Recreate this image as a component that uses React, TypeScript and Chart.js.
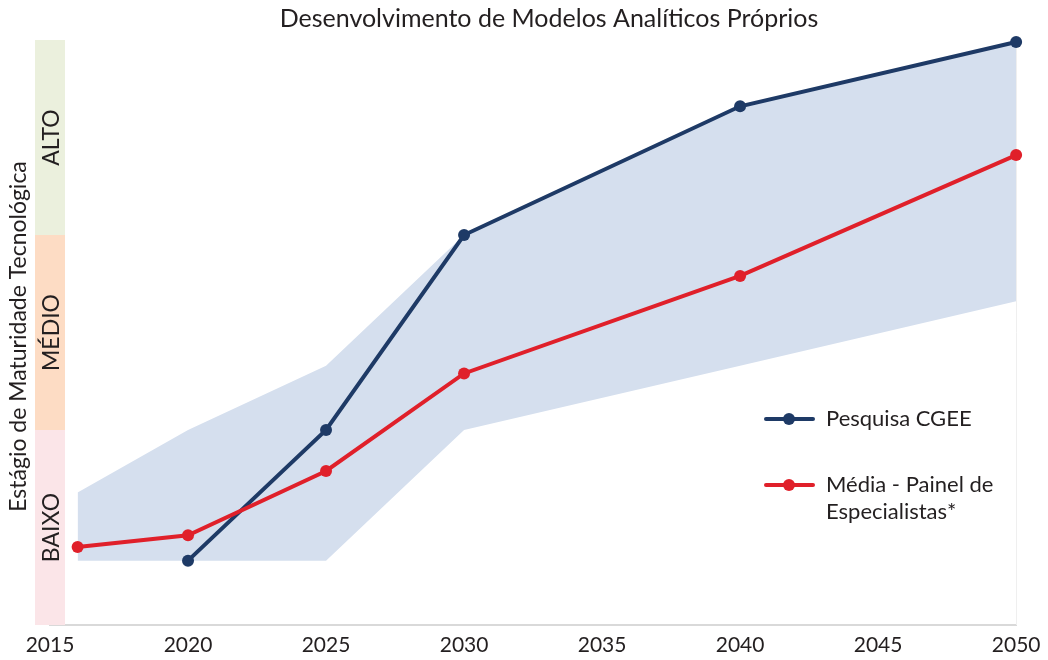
import React, { useEffect, useRef } from 'react';
import { Chart, registerables } from 'chart.js';

Chart.register(...registerables);

const chartTitle = 'Desenvolvimento de Modelos Analíticos Próprios';
const yAxisTitle = 'Estágio de Maturidade Tecnológica';
const stageLabels = ['BAIXO', 'MÉDIO', 'ALTO'];
const stageColors = ['#fbe5e8', '#fddcc4', '#ebf0dd'];
const xTickValues = [2015, 2020, 2025, 2030, 2035, 2040, 2045, 2050];
const xTickLabels = ['2015', '2020', '2025', '2030', '2035', '2040', '2045', '2050'];

const seriesNames = ['Pesquisa CGEE', 'Média - Painel de Especialistas*'];
const cgeeYears = [2020, 2025, 2030, 2040, 2050];
const cgeeValues = [0.33, 1.0, 2.0, 2.66, 2.99];
const panelYears = [2016, 2020, 2025, 2030, 2040, 2050];
const panelValues = [0.4, 0.46, 0.79, 1.29, 1.79, 2.41];
const rangeYears = [2016, 2020, 2025, 2030, 2040, 2050];
const rangeUpper = [0.68, 1.0, 1.33, 2.0, 2.66, 2.99];
const rangeLower = [0.33, 0.33, 0.33, 1.0, 1.33, 1.66];

const BLUE = '#1e3a66';
const RED = '#e0202a';
const FILL = '#d5dfee';
const TEXT = '#231f20';
const FONT = 'Lato';

const pts = (xs: number[], ys: number[]) => xs.map((x, i) => ({ x, y: ys[i] }));

const decorPlugin = {
  id: 'decor',
  beforeDatasetsDraw(chart: any) {
    const { ctx, chartArea, scales } = chart;
    const y = scales.y;
    ctx.save();
    for (let i = 0; i < stageLabels.length; i++) {
      const top = y.getPixelForValue(i + 1);
      const bottom = y.getPixelForValue(i);
      ctx.fillStyle = stageColors[i];
      ctx.fillRect(35, top, 30, bottom - top);
    }
    ctx.strokeStyle = '#efefef';
    ctx.lineWidth = 1;
    ctx.beginPath();
    ctx.moveTo(Math.round(chartArea.right) + 0.5, chartArea.top);
    ctx.lineTo(Math.round(chartArea.right) + 0.5, chartArea.bottom);
    ctx.stroke();

    ctx.fillStyle = TEXT;
    ctx.textAlign = 'center';
    ctx.textBaseline = 'alphabetic';
    ctx.font = `23px ${FONT}`;
    for (let i = 0; i < stageLabels.length; i++) {
      const top = y.getPixelForValue(i + 1);
      const bottom = y.getPixelForValue(i);
      ctx.save();
      ctx.translate(59, (top + bottom) / 2);
      ctx.rotate(-Math.PI / 2);
      ctx.fillText(stageLabels[i], 0, 0);
      ctx.restore();
    }
    ctx.save();
    ctx.font = `23px ${FONT}`;
    ctx.translate(26, (chartArea.top + chartArea.bottom) / 2 + 4);
    ctx.rotate(-Math.PI / 2);
    ctx.fillText(yAxisTitle, 0, 0);
    ctx.restore();

    // chart title
    ctx.font = `25px ${FONT}`;
    ctx.textAlign = 'center';
    ctx.textBaseline = 'middle';
    ctx.fillText(chartTitle, 549, 19);
    ctx.restore();
  },
};

const legendPlugin = {
  id: 'customLegend',
  afterDatasetsDraw(chart: any) {
    const { ctx } = chart;
    const colors = [BLUE, RED];
    const rows = [419, 485];
    ctx.save();
    ctx.font = `22px ${FONT}`;
    ctx.textBaseline = 'middle';
    ctx.textAlign = 'left';
    seriesNames.forEach((name, i) => {
      const yy = rows[i];
      ctx.strokeStyle = colors[i];
      ctx.lineWidth = 4;
      ctx.lineCap = 'round';
      ctx.beginPath();
      ctx.moveTo(766, yy);
      ctx.lineTo(813, yy);
      ctx.stroke();
      ctx.fillStyle = colors[i];
      ctx.beginPath();
      ctx.arc(789, yy, 6, 0, Math.PI * 2);
      ctx.fill();
      const words = name.split(' ');
      const lines: string[] = [];
      let cur = '';
      for (const w of words) {
        const t = cur ? cur + ' ' + w : w;
        if (ctx.measureText(t).width > 190 && cur) {
          lines.push(cur);
          cur = w;
        } else cur = t;
      }
      if (cur) lines.push(cur);
      ctx.fillStyle = TEXT;
      lines.forEach((ln, j) => ctx.fillText(ln, 826, yy + j * 27));
    });
    ctx.restore();
  },
};

export default function App() {
  const ref = useRef<HTMLCanvasElement | null>(null);
  useEffect(() => {
    if (!ref.current) return;
    Chart.defaults.font.family = FONT;
    const chart = new Chart(ref.current, {
      type: 'line',
      data: {
        datasets: [
          {
            label: 'upper',
            data: pts(rangeYears, rangeUpper),
            borderWidth: 0,
            borderColor: 'rgba(0,0,0,0)',
            backgroundColor: FILL,
            pointRadius: 0,
            fill: '+1',
            order: 10,
            tension: 0,
          },
          {
            label: 'lower',
            data: pts(rangeYears, rangeLower),
            borderWidth: 0,
            borderColor: 'rgba(0,0,0,0)',
            backgroundColor: FILL,
            pointRadius: 0,
            fill: false,
            order: 11,
            tension: 0,
          },
          {
            label: seriesNames[0],
            data: pts(cgeeYears, cgeeValues),
            borderColor: BLUE,
            backgroundColor: BLUE,
            borderWidth: 4,
            pointRadius: 6,
            pointBorderWidth: 0,
            pointBackgroundColor: BLUE,
            fill: false,
            order: 2,
            clip: false,
            tension: 0,
          },
          {
            label: seriesNames[1],
            data: pts(panelYears, panelValues),
            borderColor: RED,
            backgroundColor: RED,
            borderWidth: 4,
            pointRadius: 6,
            pointBorderWidth: 0,
            pointBackgroundColor: RED,
            fill: false,
            order: 1,
            clip: false,
            tension: 0,
          },
        ] as any,
      },
      options: {
        animation: false,
        responsive: false,
        layout: { padding: { left: 50, right: 29, top: 40, bottom: 0 } },
        plugins: {
          legend: { display: false },
          tooltip: { enabled: false },
          title: { display: false },
        },
        scales: {
          x: {
            type: 'linear',
            min: 2015,
            max: 2050,
            afterBuildTicks: (axis: any) => {
              axis.ticks = xTickValues.map((v) => ({ value: v }));
            },
            afterFit: (axis: any) => {
              axis.height = 35;
            },
            ticks: {
              color: TEXT,
              font: { family: FONT, size: 21 },
              padding: 7.5,
              maxRotation: 0,
              callback: (v: any) => {
                const i = xTickValues.indexOf(Number(v));
                return i >= 0 ? xTickLabels[i] : '';
              },
            },
            grid: { display: false, drawTicks: false },
            border: { display: true, color: '#d9d9d9', width: 2 },
          },
          y: {
            display: false,
            min: 0,
            max: 3,
          },
        },
      } as any,
      plugins: [decorPlugin, legendPlugin],
    });
    return () => chart.destroy();
  }, []);
  return (
    <div style={{ position: 'absolute', left: 0, top: 0, width: 1048, height: 660, background: '#fff' }}>
      <canvas ref={ref} width={1048} height={660} />
    </div>
  );
}
